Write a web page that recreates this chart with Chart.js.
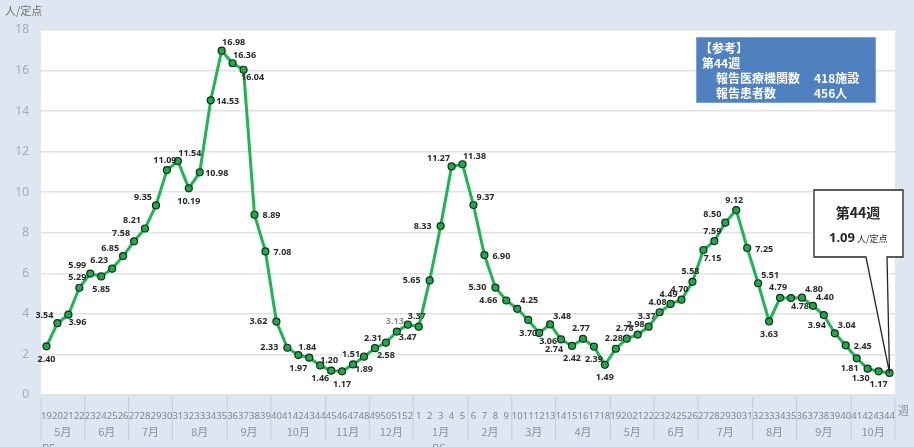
<!DOCTYPE html>
<html>
<head>
<meta charset="utf-8">
<script src="https://cdn.jsdelivr.net/npm/chart.js@4.4.0/dist/chart.umd.min.js"></script>
<style>
  html, body { margin: 0; padding: 0; background: #dde6f1; }
  #wrap { width: 914px; height: 447px; }
</style>
</head>
<body>
<div id="wrap"><canvas id="chart" width="914" height="447"></canvas></div>
<script>
// week tick labels (R5 week 19 .. R6 week 44)
const weekLabels = ['19','20','21','22','23','24','25','26','27','28','29','30','31','32','33','34','35','36','37','38','39','40','41','42','43','44','45','46','47','48','49','50','51','52',
  '1','2','3','4','5','6','7','8','9','10','11','12','13','14','15','16','17','18','19','20','21','22','23','24','25','26','27','28','29','30','31','32','33','34','35','36','37','38','39','40','41','42','43','44'];

// 人/定点, R5 weeks 19-52
const valuesR5 = [2.40, 3.54, 3.96, 5.29, 5.99, 5.85, 6.23, 6.85, 7.58, 8.21, 9.35, 11.09, 11.54, 10.19, 10.98, 14.53, 16.98, 16.36, 16.04, 8.89, 7.08, 3.62, 2.33, 1.97, 1.84, 1.46, 1.20, 1.17, 1.51, 1.89, 2.31, 2.58, 3.13, 3.47];
// R6 weeks 1-44
const valuesR6 = [3.37, 5.65, 8.33, 11.27, 11.38, 9.37, 6.90, 5.30, 4.66, 4.25, 3.70, 3.06, 3.48, 2.74, 2.42, 2.77, 2.39, 1.49, 2.28, 2.78, 2.98, 3.37, 4.08, 4.49, 4.70, 5.58, 7.15, 7.59, 8.50, 9.12, 7.25, 5.51, 3.63, 4.79, 4.78, 4.80, 4.40, 3.94, 3.04, 2.45, 1.81, 1.30, 1.17, 1.09];

// month row under the week ticks
const months = ['5月','6月','7月','8月','9月','10月','11月','12月','1月','2月','3月','4月','5月','6月','7月','8月','9月','10月'];
const monthWeeks = [4, 4, 4, 5, 4, 5, 4, 4, 5, 4, 4, 5, 4, 4, 5, 4, 5, 4];
const years = ['R5', 'R6'];
const yearWeeks = [34, 44];

// where each value label sits around its point
const labelPos = ['b','la','rb','a','la','b','la','la','la','la','la','a','ra','b','r','r','ra','ra','rb','r','r','l','l','b','a','b','a','b','a','b','a','b','a','b',
  'a','l','l','la','ra','ra','r','l','l','ra','b','rb','ra','lb','b','a','b','b','a','a','a','a','a','a','a','a','rb','a','la','a','r','ra','b','a','rb','ra','ra','lb','ra','r','lb','lb','b',''];
const dimLabels = [32];

const offsets = {
  a: [-2, -10], b: [0, 13], l: [-18, 0], r: [17, 1],
  la: [-13, -8], ra: [12, -8], lb: [-7, 10], rb: [9, 8]
};

const allValues = valuesR5.concat(valuesR6);

const decoPlugin = {
  id: 'deco',
  beforeDraw(chart) {
    const ctx = chart.ctx;
    const a = chart.chartArea;
    ctx.save();
    ctx.fillStyle = '#dde6f1';
    ctx.fillRect(0, 0, chart.width, chart.height);
    ctx.fillStyle = '#ffffff';
    ctx.fillRect(a.left, a.top, a.right - a.left, a.bottom - a.top);
    ctx.restore();
  },
  afterDatasetsDraw(chart) {
    const ctx = chart.ctx;
    const meta = chart.getDatasetMeta(0);
    ctx.save();
    ctx.font = 'bold 9px "Noto Sans", sans-serif';
    ctx.textAlign = 'center';
    ctx.textBaseline = 'middle';
    meta.data.forEach((pt, i) => {
      const code = labelPos[i];
      if (!code) return;
      const off = offsets[code];
      ctx.fillStyle = dimLabels.includes(i) ? '#8c8c8c' : '#2a2a2a';
      ctx.fillText(allValues[i].toFixed(2), pt.x + off[0], pt.y + off[1]);
    });
    ctx.restore();
  },
  afterDraw(chart) {
    const ctx = chart.ctx;
    const x = chart.scales.x;
    const a = chart.chartArea;
    const step = (a.right - a.left) / weekLabels.length;
    ctx.save();

    // month groups
    ctx.strokeStyle = 'rgba(150,162,180,0.35)';
    ctx.lineWidth = 1;
    ctx.font = '11px "Noto Sans CJK JP", sans-serif';
    ctx.fillStyle = '#8a9099';
    ctx.textAlign = 'center';
    ctx.textBaseline = 'middle';
    let idx = 0;
    const edge = i => x.getPixelForValue(i) - step / 2;
    ctx.beginPath();
    ctx.moveTo(edge(0), a.bottom + 2);
    ctx.lineTo(edge(0), a.bottom + 45);
    ctx.stroke();
    months.forEach((m, k) => {
      const start = idx;
      idx += monthWeeks[k];
      const x0 = edge(start);
      const x1 = edge(idx);
      ctx.fillText(m, (x0 + x1) / 2, a.bottom + 37);
      ctx.beginPath();
      ctx.moveTo(x1, a.bottom + 2);
      ctx.lineTo(x1, a.bottom + 45);
      ctx.stroke();
    });

    // era labels (cut by the bottom edge)
    ctx.textBaseline = 'top';
    ctx.textAlign = 'left';
    ctx.fillText(years[0], edge(0) + 1, 442);
    ctx.textAlign = 'center';
    ctx.fillText(years[1], (edge(yearWeeks[0]) + edge(yearWeeks[0] + monthWeeks[8])) / 2 - 2, 442);

    // axis unit texts
    ctx.textBaseline = 'middle';
    ctx.textAlign = 'left';
    ctx.fillStyle = '#6e6e6e';
    ctx.font = '11px "Noto Sans CJK JP", sans-serif';
    ctx.fillText('人/定点', 5, 11);
    ctx.fillStyle = '#8a9099';
    ctx.fillText('週', 898, 411);

    // reference box
    ctx.fillStyle = '#4f81c1';
    ctx.fillRect(696, 37, 180, 66);
    ctx.strokeStyle = '#7fa3d4';
    ctx.strokeRect(696.5, 37.5, 179, 65);
    ctx.fillStyle = '#ffffff';
    ctx.font = 'bold 12px "Noto Sans CJK JP", sans-serif';
    ctx.fillText('【参考】', 700, 48);
    ctx.fillText('第44週', 702, 63);
    ctx.fillText('報告医療機関数', 716, 78);
    ctx.fillText('418施設', 814, 78);
    ctx.fillText('報告患者数', 716, 93);
    ctx.fillText('456人', 814, 93);

    // callout for the latest week
    const last = chart.getDatasetMeta(0).data[allValues.length - 1];
    ctx.beginPath();
    ctx.moveTo(814, 190);
    ctx.lineTo(903, 190);
    ctx.lineTo(903, 257);
    ctx.lineTo(887, 257);
    ctx.lineTo(last.x, last.y);
    ctx.lineTo(866, 257);
    ctx.lineTo(814, 257);
    ctx.closePath();
    ctx.fillStyle = '#ffffff';
    ctx.fill();
    ctx.strokeStyle = '#262626';
    ctx.lineWidth = 1.3;
    ctx.stroke();
    ctx.fillStyle = '#262626';
    ctx.textAlign = 'center';
    ctx.font = 'bold 14px "Noto Sans CJK JP", sans-serif';
    ctx.fillText('第44週', 858, 213);
    ctx.textAlign = 'left';
    ctx.font = 'bold 13px "Noto Sans", sans-serif';
    ctx.fillText(allValues[allValues.length - 1].toFixed(2), 829, 238);
    ctx.font = '9px "Noto Sans CJK JP", sans-serif';
    ctx.fillText('人/定点', 857, 239);

    ctx.restore();
  }
};

new Chart(document.getElementById('chart'), {
  type: 'line',
  data: {
    labels: weekLabels,
    datasets: [{
      data: allValues,
      borderColor: '#1fb553',
      borderWidth: 3,
      tension: 0,
      pointRadius: 3.5,
      pointBackgroundColor: '#21a84b',
      pointBorderColor: '#0c2f15',
      pointBorderWidth: 1.2
    }]
  },
  options: {
    responsive: false,
    animation: false,
    layout: { padding: { top: 30, right: 19, left: 0, bottom: 0 } },
    plugins: {
      legend: { display: false },
      tooltip: { enabled: false }
    },
    scales: {
      x: {
        offset: true,
        grid: { display: false },
        border: { display: false },
        ticks: {
          autoSkip: false,
          maxRotation: 0,
          padding: 8,
          color: '#80868f',
          font: { family: 'Noto Sans', size: 9.5 }
        },
        afterFit(s) { s.height = 52; }
      },
      y: {
        min: 0,
        max: 18,
        grid: { color: '#e2e2e2', lineWidth: 1.5, drawTicks: false },
        border: { display: false },
        ticks: {
          stepSize: 2,
          padding: 12,
          color: '#a3abb5',
          font: { family: 'Noto Sans', size: 12 }
        },
        afterFit(s) { s.width = 41; }
      }
    }
  },
  plugins: [decoPlugin]
});
</script>
</body>
</html>
